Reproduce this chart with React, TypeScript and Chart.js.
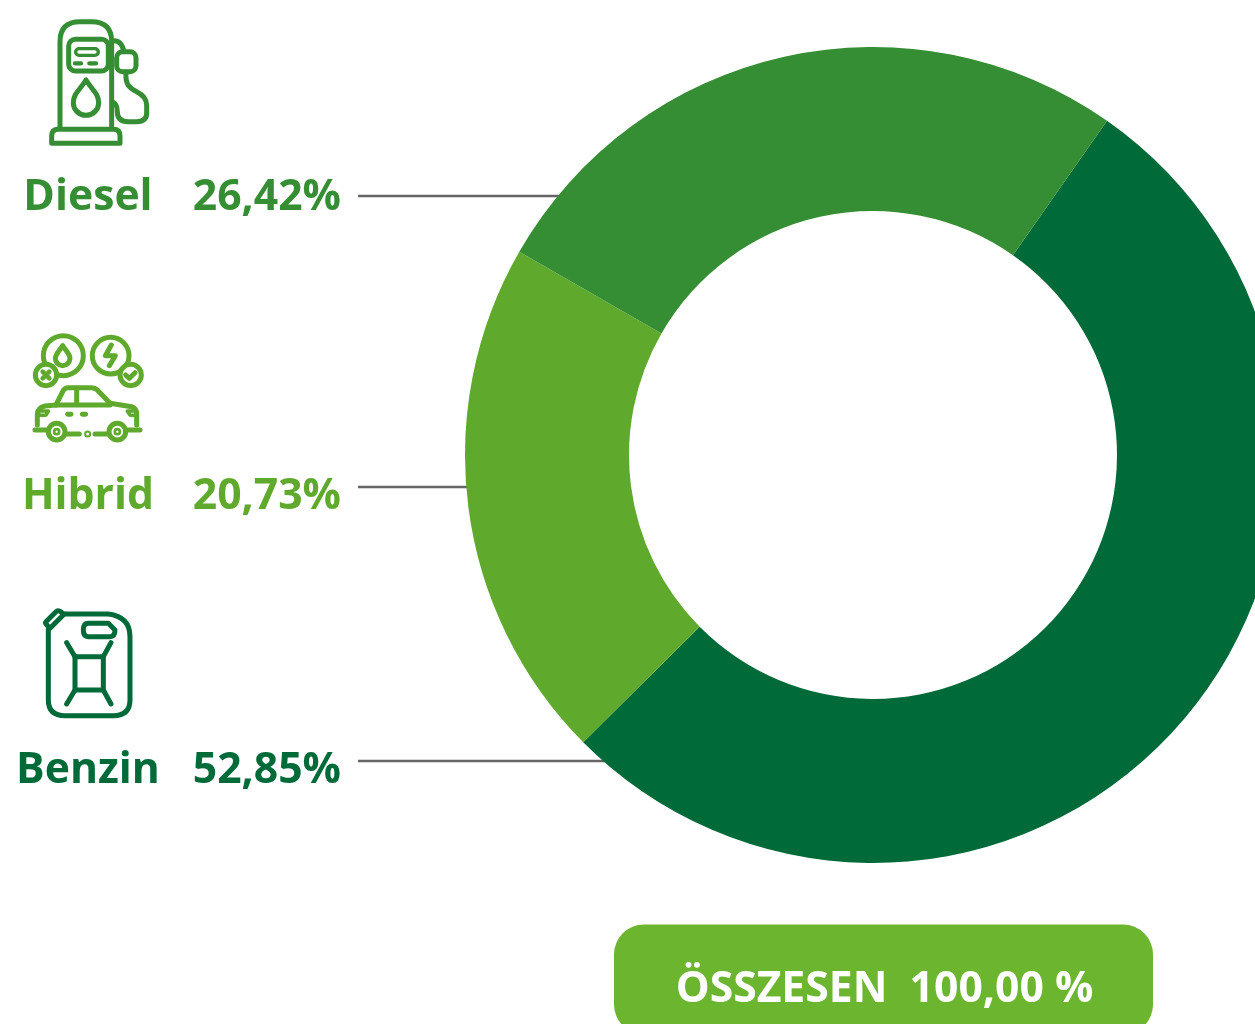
import React, { useEffect, useRef } from "react";
import { Chart, registerables } from "chart.js";

Chart.register(...registerables);

const categories = ["Benzin", "Hibrid", "Diesel"];
const shares = [52.85, 20.73, 26.42];
const shareLabels = ["52,85%", "20,73%", "26,42%"];
const sliceColors = ["#006a39", "#5faa2d", "#358e33"];
const totalLabel = "ÖSSZESEN  100,00 %";
const FONT = "'Open Sans', sans-serif";

const labelBaselines = [783, 509, 210];
const lineYs = [761, 487, 196];
const lineEnds = [610, 470, 562];

function DieselIcon() {
  return (
    <g transform="translate(30 10) scale(0.3333)" fill="none" stroke={sliceColors[2]} strokeWidth={15} strokeLinecap="round" strokeLinejoin="round">
      <path d="M90 355 V95 Q90 35 150 35 H185 Q245 35 245 95 V355" />
      <path d="M85 358 H250 Q270 358 270 378 V400 H65 V378 Q65 358 85 358 Z" />
      <rect x={116} y={88} width={119} height={95} rx={20} />
      <rect x={137} y={116} width={68} height={20} rx={10} strokeWidth={10} />
      <path d="M135 160 H153 M178 160 H198" strokeWidth={13} />
      <path d="M168 210 C150 240 130 250 130 278 A38 38 0 0 0 206 278 C206 250 186 240 168 210 Z" />
      <path d="M252 92 Q275 92 282 125" />
      <rect x={260} y={125} width={58} height={60} rx={18} />
      <path d="M288 187 C285 225 300 235 320 245 Q350 260 350 285 V310 Q350 335 320 335 H295 Q262 335 262 305 Q262 282 248 276" />
    </g>
  );
}

function HybridIcon() {
  return (
    <g transform="translate(20 325) scale(0.3333)" fill="none" stroke={sliceColors[1]} strokeWidth={15} strokeLinecap="round" strokeLinejoin="round">
      <circle cx={130} cy={92} r={60} />
      <circle cx={272} cy={92} r={55} />
      <circle cx={78} cy={150} r={32} fill="#fff" />
      <circle cx={332} cy={150} r={32} fill="#fff" />
      <path d="M128 62 C118 78 106 88 106 100 A22 22 0 0 0 150 100 C150 88 138 78 128 62 Z" />
      <path d="M274 60 L256 92 H286 L268 122" />
      <path d="M68 140 L88 160 M88 140 L68 160" strokeWidth={14} />
      <path d="M317 150 L328 160 L345 143" />
      <path d="M108 240 L130 196 Q135 188 145 188 H215 Q225 188 232 195 L270 235 L335 245 Q350 250 350 268 V300" />
      <path d="M108 240 L75 243 Q52 248 52 270 V300" />
      <path d="M108 240 H270 M170 190 V240" />
      <path d="M60 258 H85 L78 270 Q68 272 60 270 M345 258 H322 L330 270 Q340 272 345 270" strokeWidth={11} />
      <path d="M143 268 H153 M187 268 H197" />
      <path d="M45 315 H80 M140 327 H178 M225 327 H262 M325 315 H360" />
      <circle cx={203} cy={327} r={3} />
      <circle cx={110} cy={320} r={25} fill="#fff" />
      <circle cx={292} cy={320} r={25} fill="#fff" />
      <circle cx={110} cy={320} r={4} />
      <circle cx={292} cy={320} r={4} />
    </g>
  );
}

function CanIcon() {
  return (
    <g transform="translate(30 600) scale(0.3333)" fill="none" stroke={sliceColors[0]} strokeWidth={15} strokeLinecap="round" strokeLinejoin="round">
      <path d="M105 42 H235 Q300 50 300 110 V300 Q300 347 250 347 H105 Q55 347 55 300 V88" />
      <path d="M48 65 L78 35 Q83 30 90 34 L102 43 L60 85 L48 72 Q45 68 48 65 Z" />
      <path d="M175 70 H235 L255 90 Q255 110 240 110 H175 Q160 110 160 90 Q160 70 175 70 Z" />
      <rect x={135} y={170} width={85} height={100} />
      <path d="M110 128 L135 170 M243 128 L220 170 M135 270 L110 312 M220 270 L243 312" />
    </g>
  );
}

export default function App() {
  const ref = useRef<HTMLCanvasElement>(null);
  useEffect(() => {
    const chart = new Chart(ref.current!, {
      type: "doughnut",
      data: {
        labels: categories,
        datasets: [{ data: shares, backgroundColor: sliceColors, borderWidth: 0 }],
      },
      options: {
        animation: false,
        responsive: false,
        rotation: 35,
        cutout: "59.8%",
        layout: { padding: 12 },
        plugins: { legend: { display: false }, tooltip: { enabled: false } },
      },
    });
    return () => chart.destroy();
  }, []);

  return (
    <div style={{ position: "fixed", left: 0, top: 0, width: 1255, height: 1024, overflow: "hidden", background: "#fff" }}>
      <svg width={1255} height={1024} style={{ position: "absolute", left: 0, top: 0 }}>
        {lineYs.map((y, i) => (
          <line key={i} x1={358} x2={lineEnds[i]} y1={y} y2={y} stroke="#666" strokeWidth={2.5} />
        ))}
      </svg>
      <canvas ref={ref} width={840} height={840} style={{ position: "absolute", left: 453, top: 35, width: 840, height: 840 }} />
      <svg width={1255} height={1024} style={{ position: "absolute", left: 0, top: 0 }}>
        <DieselIcon />
        <HybridIcon />
        <CanIcon />
        {categories.map((c, i) => (
          <g key={c} fontFamily={FONT} fontWeight={700} fontSize={42.7} fill={sliceColors[i]}>
            <text x={88} y={labelBaselines[i]} textAnchor="middle">{c}</text>
            <text x={341} y={labelBaselines[i]} textAnchor="end">{shareLabels[i]}</text>
          </g>
        ))}
        <rect x={614} y={924.5} width={539} height={110} rx={30} fill="#6cb52f" />
        <text x={884.5} y={1002} textAnchor="middle" fontFamily={FONT} fontWeight={700} fontSize={42.7} fill="#fff" style={{ whiteSpace: "pre" }}>{totalLabel}</text>
      </svg>
    </div>
  );
}
